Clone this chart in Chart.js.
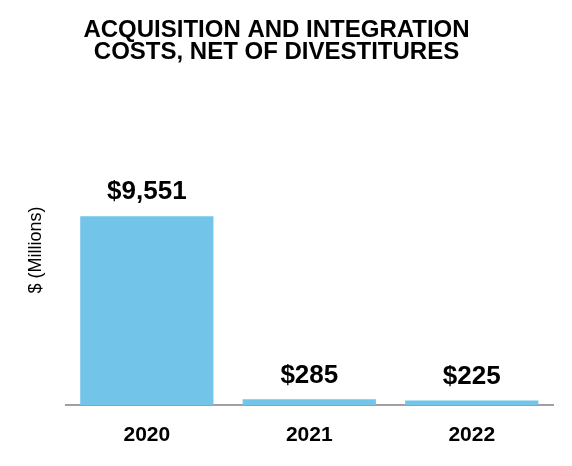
<!DOCTYPE html>
<html>
<head>
<meta charset="utf-8">
<script src="https://cdn.jsdelivr.net/npm/chart.js@4"></script>
<style>
  html, body { margin: 0; padding: 0; background: #ffffff; }
  #wrap { width: 572px; height: 466px; position: relative; }
</style>
</head>
<body>
<div id="wrap"><canvas id="c" width="572" height="466"></canvas></div>
<script>
const categories = ['2020', '2021', '2022'];
const costs = [9551, 285, 225];
const valueLabels = ['$9,551', '$285', '$225'];
const titleLines = ['ACQUISITION AND INTEGRATION', 'COSTS, NET OF DIVESTITURES'];
const yAxisTitle = '$ (Millions)';
const yMax = 15680;

const FONT = '"Liberation Sans", Arial, Helvetica, sans-serif';

const valueLabelPlugin = {
  id: 'valueLabels',
  afterDatasetsDraw(chart) {
    const ctx = chart.ctx;
    const meta = chart.getDatasetMeta(0);
    ctx.save();
    ctx.font = 'bold 26px ' + FONT;
    ctx.fillStyle = '#000000';
    ctx.textAlign = 'center';
    ctx.textBaseline = 'middle';
    meta.data.forEach((bar, i) => {
      ctx.fillText(valueLabels[i], bar.x, bar.y - 24);
    });
    ctx.restore();
  }
};

new Chart(document.getElementById('c'), {
  type: 'bar',
  data: {
    labels: categories,
    datasets: [{
      data: costs,
      backgroundColor: '#72C4E8',
      borderWidth: 0,
      categoryPercentage: 1.0,
      barPercentage: 0.82
    }]
  },
  options: {
    responsive: false,
    animation: false,
    devicePixelRatio: 1,
    layout: { padding: { left: 0, right: 19, top: 0, bottom: 0 } },
    plugins: {
      legend: { display: false },
      tooltip: { enabled: false },
      title: {
        display: true,
        text: titleLines,
        color: '#000000',
        font: { family: FONT, size: 24, weight: 'bold', lineHeight: 0.9 },
        padding: { top: 20, bottom: 32 }
      }
    },
    scales: {
      x: {
        grid: { display: false, drawTicks: false },
        border: { display: true, color: '#A0A0A0', width: 2 },
        ticks: {
          color: '#000000',
          padding: 20,
          font: { family: FONT, size: 21, weight: 'bold', lineHeight: 1.0 }
        }
      },
      y: {
        min: 0,
        max: yMax,
        grid: { display: false, drawTicks: false },
        border: { display: false },
        ticks: { display: false },
        title: {
          display: true,
          text: yAxisTitle,
          color: '#000000',
          font: { family: FONT, size: 18 },
          padding: { top: 25, bottom: 19 }
        }
      }
    }
  },
  plugins: [valueLabelPlugin]
});
</script>
</body>
</html>
